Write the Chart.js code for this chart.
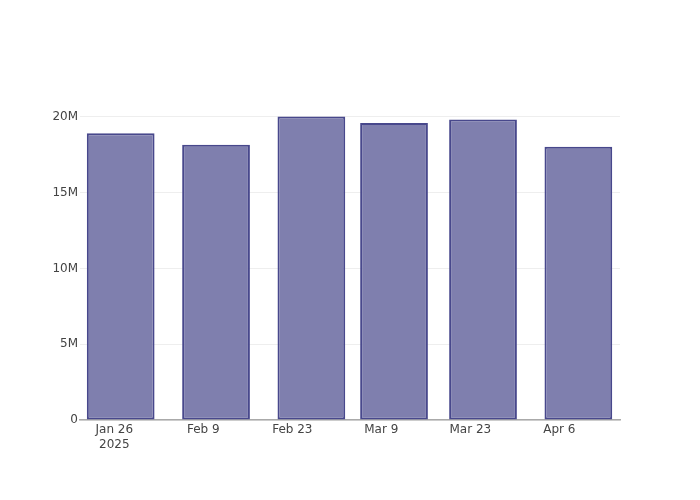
<!DOCTYPE html>
<html>
<head>
<meta charset="utf-8">
<script src="https://cdn.jsdelivr.net/npm/chart.js@4/dist/chart.umd.min.js"></script>
<style>
    body { margin: 0; background: #fff; }
    #canvasParent { width: 700px; height: 500px; }
</style>
</head>
<body>
<div id="canvasParent"><canvas id="canvas" width="700" height="500"></canvas></div>
<script>
// データ
const barDates = ['2025-01-27', '2025-02-11', '2025-02-26', '2025-03-11', '2025-03-25', '2025-04-09'];
const barValues = [18930000, 18160000, 20030000, 19610000, 19830000, 18030000];
const tickDates = ['2025-01-26', '2025-02-09', '2025-02-23', '2025-03-09', '2025-03-23', '2025-04-06'];
const tickLabels = [['Jan 26', '2025'], 'Feb 9', 'Feb 23', 'Mar 9', 'Mar 23', 'Apr 6'];
const yTickLabels = ['0', '5M', '10M', '15M', '20M'];

// 日付を基準日からの日数に変換
const baseDay = Date.UTC(2025, 0, 26);
function toDay(s) {
    let p = s.split('-');
    return (Date.UTC(+p[0], +p[1] - 1, +p[2]) - baseDay) / 86400000;
}

const barData = barDates.map((d, i) => ({x: toDay(d), y: barValues[i]}));
const tickDays = tickDates.map(toDay);

const ctx = document.getElementById('canvas').getContext('2d');
new Chart(ctx, {
    type: 'bar',
    data: {
        datasets: [{
            data: barData,
            backgroundColor: 'rgb(127,127,174)',
            borderColor: 'rgb(72,72,140)',
            borderWidth: 2,
            borderSkipped: false,
            categoryPercentage: 0.82,
            barPercentage: 1
        }]
    },
    options: {
        responsive: false,
        animation: false,
        layout: { padding: { left: 0, right: 80, top: 100, bottom: 0 } },
        plugins: { legend: { display: false }, tooltip: { enabled: false } },
        scales: {
            x: {
                type: 'linear',
                offset: false,
                min: -5.4,
                max: 79.55,
                afterBuildTicks: (axis) => { axis.ticks = tickDays.map(v => ({value: v})); },
                afterFit: (axis) => { axis.height = 80; },
                grid: { display: false, drawTicks: false },
                border: { display: true, color: '#aaa', width: 1.5 },
                ticks: {
                    color: '#444',
                    font: { family: 'DejaVu Sans', size: 12 },
                    padding: 3,
                    maxRotation: 0,
                    autoSkip: false,
                    callback: (value) => {
                        let i = tickDays.indexOf(value);
                        return i >= 0 ? tickLabels[i] : '';
                    }
                }
            },
            y: {
                min: 0,
                max: 21120000,
                afterBuildTicks: (axis) => { axis.ticks = yTickLabels.map((t, i) => ({value: i * 5000000})); },
                afterFit: (axis) => { axis.width = 80; },
                grid: { color: '#eee', lineWidth: 1, drawTicks: false },
                border: { display: false },
                ticks: {
                    color: '#444',
                    font: { family: 'DejaVu Sans', size: 12 },
                    padding: 2,
                    callback: (value) => yTickLabels[Math.round(value / 5000000)]
                }
            }
        }
    }
});
</script>
</body>
</html>
